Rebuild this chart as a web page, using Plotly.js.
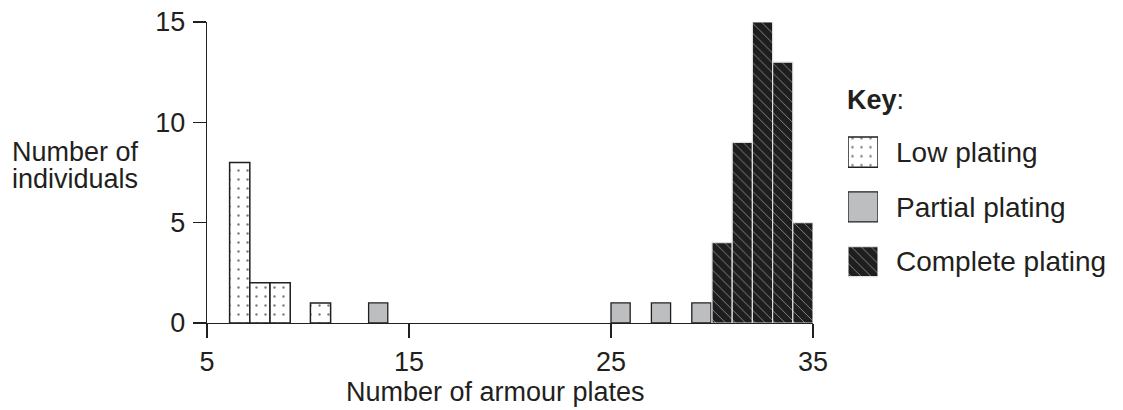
<!DOCTYPE html>
<html>
<head>
<meta charset="utf-8">
<script src="https://cdn.plot.ly/plotly-3.0.1.min.js"></script>
<style>html,body{margin:0;padding:0;background:#fff}#chart{width:1123px;height:410px}</style>
</head>
<body>
<div id="chart"></div>
<script>
// ---- data ----
const seriesNames = ["Low plating", "Partial plating", "Complete plating"];
const lowPlates = [7, 8, 9, 11];
const lowCounts = [8, 2, 2, 1];
const partialPlates = [14, 26, 28, 30];
const partialCounts = [1, 1, 1, 1];
const completePlates = [31, 32, 33, 34, 35];
const completeCounts = [4, 9, 15, 13, 5];
const xTicks = [5, 15, 25, 35];
const yTicks = [0, 5, 10, 15];
const xTitle = "Number of armour plates";
const yTitleLines = ["Number of", "individuals"];
const keyTitle = "<b>Key</b>:";

// ---- styles ----
const INK = "#231f20";
const FONT = "Liberation Sans, Arial, Helvetica, sans-serif";
const styles = [
  {color: "#ffffff", line: {color: INK, width: 1.5},
   pattern: {shape: ".", fgcolor: "#000000", bgcolor: "#ffffff", size: 9, solidity: 0.06, fillmode: "overlay"}},
  {color: "#bcbec0", line: {color: INK, width: 1.3}},
  {color: "#1e1e1e", line: {color: "#e0e0e0", width: 1.2},
   pattern: {shape: "\\", fgcolor: "#f0f0f0", bgcolor: "#1e1e1e", size: 7, solidity: 0.09, fgopacity: 0.75, fillmode: "overlay"}}
];

const W = 1123, H = 410;
const px = v => v / W;
const py = v => 1 - v / H;

const traces = [
  {type: "bar", x: lowPlates, y: lowCounts, width: 1, offset: -0.88, marker: styles[0], name: seriesNames[0], showlegend: false, hoverinfo: "skip"},
  {type: "bar", x: partialPlates, y: partialCounts, width: 0.95, offset: -1, marker: styles[1], name: seriesNames[1], showlegend: false, hoverinfo: "skip"},
  {type: "bar", x: completePlates, y: completeCounts, width: 1, offset: -1, marker: styles[2], name: seriesNames[2], showlegend: false, hoverinfo: "skip"}
];
// key swatches drawn as bars on an auxiliary axis
seriesNames.forEach((n, i) => {
  traces.push({type: "bar", orientation: "h", x: [1], y: [n], width: 0.55, base: 0,
    marker: styles[i], xaxis: "x2", yaxis: "y2", showlegend: false, hoverinfo: "skip"});
});

const tickFont = {family: FONT, size: 27, color: INK};

const layout = {
  width: W, height: H,
  margin: {l: 0, r: 0, t: 0, b: 0},
  paper_bgcolor: "#ffffff", plot_bgcolor: "rgba(0,0,0,0)",
  barmode: "overlay",
  showlegend: false,
  font: {family: FONT, color: INK},
  xaxis: {
    domain: [px(207), px(813)], range: [5, 35], anchor: "y",
    tickmode: "array", tickvals: xTicks, ticktext: xTicks.map(String),
    ticks: "outside", ticklen: 14, tickwidth: 1.4, tickcolor: INK,
    showline: true, linecolor: INK, linewidth: 1.4,
    showgrid: false, zeroline: false, tickfont: tickFont, ticklabelstandoff: 0
  },
  yaxis: {
    domain: [py(323), py(22)], range: [0, 15], anchor: "x",
    tickmode: "array", tickvals: yTicks, ticktext: yTicks.map(String),
    ticks: "outside", ticklen: 13, tickwidth: 1.4, tickcolor: INK,
    showline: true, linecolor: INK, linewidth: 1.4,
    showgrid: false, zeroline: false, tickfont: tickFont, ticklabelstandoff: 2
  },
  xaxis2: {domain: [px(848), px(878)], range: [0, 1], anchor: "y2", visible: false, fixedrange: true},
  yaxis2: {
    domain: [py(289), py(124.7)], anchor: "x2", type: "category",
    categoryorder: "array", categoryarray: seriesNames, range: [2.5, -0.5],
    side: "right", ticks: "", showline: false, showgrid: false, zeroline: false,
    tickfont: {family: FONT, size: 28, color: INK}, ticklabelstandoff: 17
  },
  annotations: [
    {text: xTitle, xref: "paper", yref: "paper", x: px(495), y: py(392), xanchor: "center", yanchor: "middle",
     showarrow: false, font: {family: FONT, size: 27, color: INK}},
    {text: yTitleLines[0], xref: "paper", yref: "paper", x: px(10), y: py(152), xanchor: "left", yanchor: "middle",
     showarrow: false, font: {family: FONT, size: 27, color: INK}},
    {text: yTitleLines[1], xref: "paper", yref: "paper", x: px(10), y: py(179), xanchor: "left", yanchor: "middle",
     showarrow: false, font: {family: FONT, size: 27, color: INK}},
    {text: keyTitle, xref: "paper", yref: "paper", x: px(845), y: py(100), xanchor: "left", yanchor: "middle",
     showarrow: false, font: {family: FONT, size: 27, color: INK}}
  ]
};

Plotly.newPlot("chart", traces, layout, {staticPlot: true, displayModeBar: false});
</script>
</body>
</html>
